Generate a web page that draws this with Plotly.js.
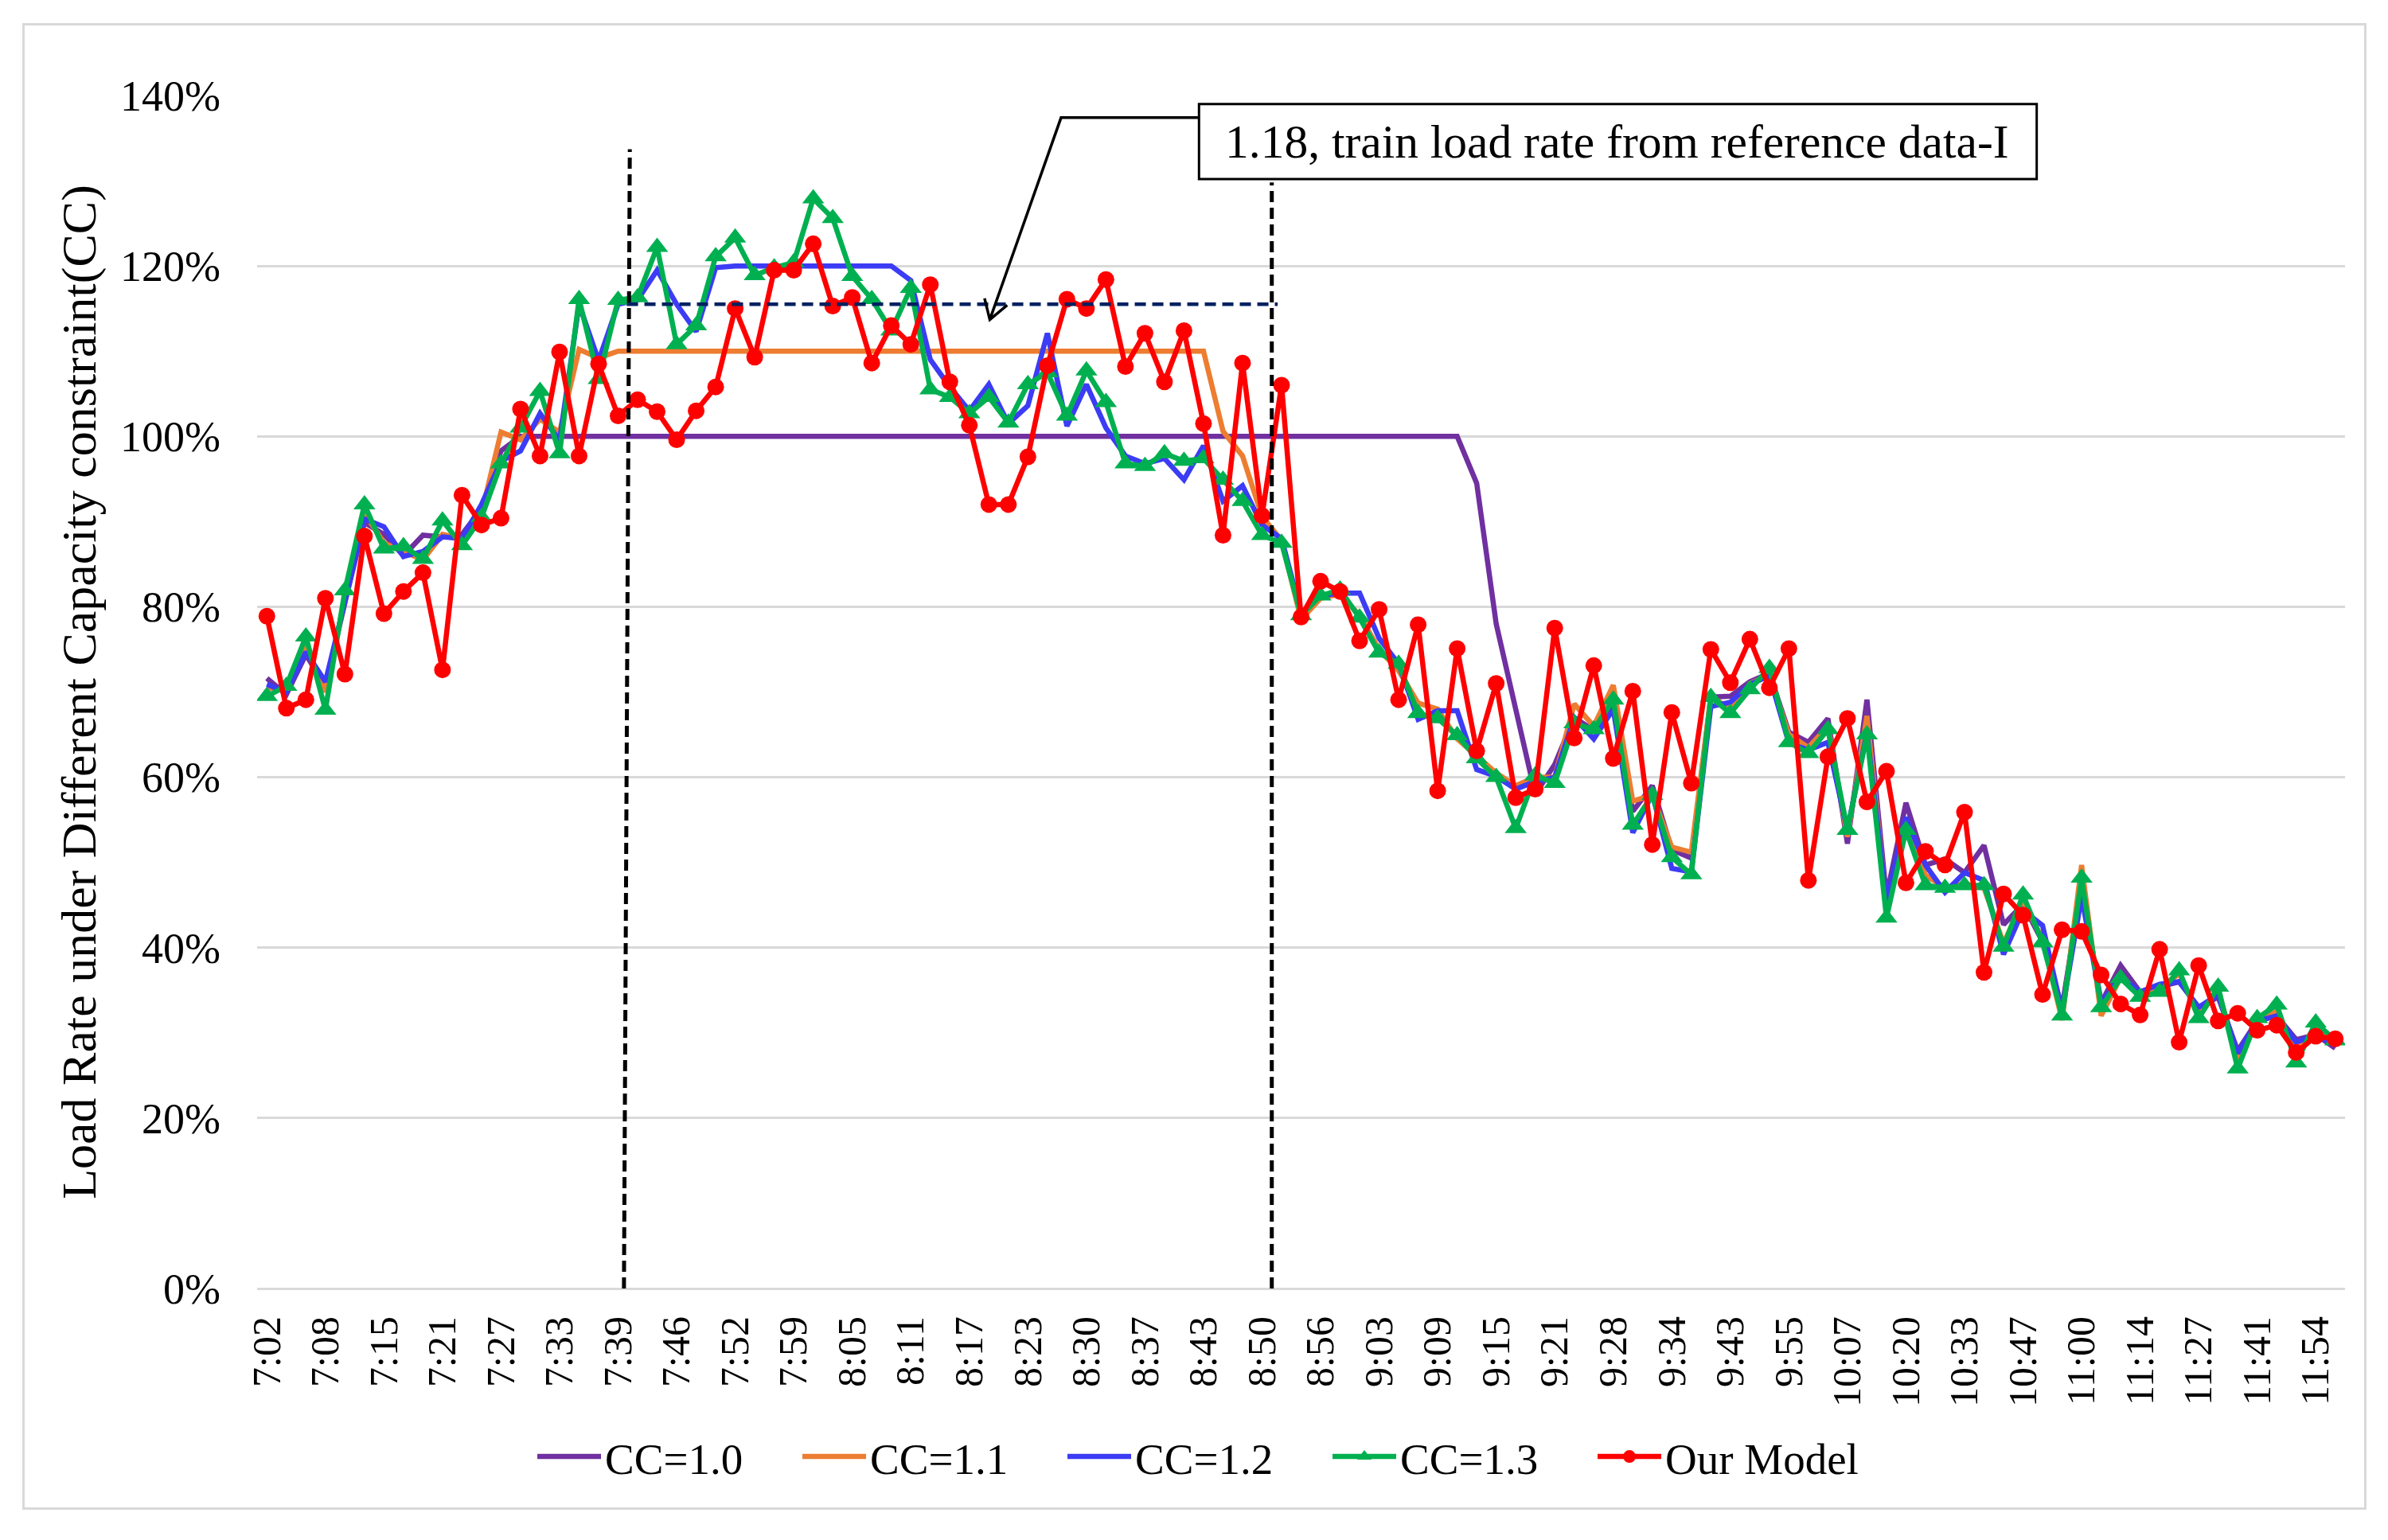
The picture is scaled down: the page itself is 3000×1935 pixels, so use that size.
<!DOCTYPE html>
<html>
<head>
<meta charset="utf-8">
<script src="https://cdn.plot.ly/plotly-3.0.1.min.js"></script>
<style>
  html, body { margin: 0; padding: 0; background: #fff; }
  #wrap { position: relative; width: 3000px; height: 1935px; }
  #chart { position: absolute; left: 0; top: 0; width: 3000px; height: 1935px; }
  #frame { position: absolute; left: 28px; top: 29px; width: 2939px; height: 1862px;
           border: 3px solid #d9d9d9; pointer-events: none; }
</style>
</head>
<body>
<div id="wrap"><div id="chart"></div><div id="frame"></div></div>
<script>
// Tick labels (every third departure)
const timeLabels = ["7:02","7:08","7:15","7:21","7:27","7:33","7:39","7:46","7:52","7:59",
  "8:05","8:11","8:17","8:23","8:30","8:37","8:43","8:50","8:56","9:03","9:09","9:15",
  "9:21","9:28","9:34","9:43","9:55","10:07","10:20","10:33","10:47","11:00","11:14",
  "11:27","11:41","11:54"];

// Load rate (%) per train, 107 trains
const cc10 = [71.6,69.7,74.4,70.6,80.5,89.9,88.5,86.0,88.4,88.2,88.5,91.5,98.3,100,
  100,100,100,100,100,100,100,100,100,100,100,100,100,100,100,100,100,100,100,100,100,100,
  100,100,100,100,100,100,100,100,100,100,100,100,100,100,100,100,100,100,100,100,100,100,
  100,100,100,100,94.5,78,68,58,61.5,67,65.5,68.5,56,59,51.5,50.5,69.4,69.5,71.2,72.2,
  65.3,64.1,66.9,52.2,69.1,46,57,49.7,50.4,48.8,52,42.7,45.1,40.7,33,47.5,33.5,37.9,
  34.8,35.4,36.0,33.0,34.2,27.9,31.4,32.0,29.2,29.8,28.2];

const cc11 = [70.5,70.3,75.5,70.0,81,91,87.5,86.5,85.5,88.5,88,91,100.5,99.6,102,100.5,
  110.2,109.2,110,110,110,110,110,110,110,110,110,110,110,110,110,110,110,110,110,110,
  110,110,110,110,110,110,110,110,110,110,110,110,110,100.6,97.7,90.6,87.8,78.5,81.0,81.5,
  79,75,72.5,68.7,68,64.5,62.5,60.5,59,60,60,68.6,66,70.8,57.2,57.9,51.8,51.2,69.5,68,
  71,72,65,63.5,66,53,67.2,45,55,48.5,47,47.5,47,40.5,45.5,41,31.5,49.7,32,36.5,34.5,
  35,37,32,35,27,31.5,32.5,28,30.5,29];

const cc12 = [70.9,70.0,74.7,71.2,80.6,90.3,89.4,85.9,86.5,88.2,88,92,97.1,98.3,102.7,
  99.5,115.5,108.9,115.5,116,119.5,115.5,112.3,119.8,120,120,120,120,120,120,120,120,120,
  118.3,109.0,105.8,103.0,106.1,101.5,103.6,112.1,101.2,106.1,101,97.7,96.8,97.4,94.9,
  98.9,92.4,94.2,89.6,88,79.3,81.3,81.6,81.6,76.3,73.3,66.8,67.8,67.8,60.9,60.1,58.6,
  59.5,60,67,64.5,68,53.5,58,49.3,48.9,68.3,68.8,70.9,71.9,64,63.2,64.1,53.8,65.3,45.4,
  55.3,49.7,46.5,48.8,47.9,39.2,44.4,42.6,32.5,46,33.5,36.6,34.8,35.7,36,33,34.5,27.6,
  31.4,32,28.9,29.8,28.5];

const cc13 = [69.5,70.7,76.5,67.9,81.9,92.0,86.8,87.1,85.6,90.1,87.2,90.5,96.8,101,105.3,
  98.0,116.1,106.7,116,116.3,122.2,110.8,113.0,121.1,123.3,118.9,119.8,120.4,127.9,125.6,
  118.8,116.1,112.4,117.4,105.5,104.6,102.7,104.6,101.6,106.1,107.5,102.4,107.7,104,96.8,
  96.5,98,97.1,97.4,94.9,92.4,88.4,87.5,79.0,81.3,82,78.7,74.6,73.3,67.5,66.9,64.9,62.2,
  60,54,60.2,59.3,66.3,65.6,69.1,54.4,57.9,50.6,48.6,69.4,67.5,70.3,72.8,64.1,62.8,65.6,
  53.8,65.0,43.5,53.8,47.3,47.0,47.3,47.3,40.1,46.2,40.6,32,48.2,33,36.4,34.2,34.8,37.3,
  31.7,35.4,25.8,31.7,33.3,26.5,31.2,29.1];

const ourModel = [78.9,68.1,69.1,81.0,72.1,88.3,79.2,81.8,84.0,72.6,93.1,89.6,90.4,103.2,
  97.7,109.9,97.7,108.5,102.4,104.3,102.9,99.6,103.0,105.8,115.0,109.3,119.5,119.5,122.6,
  115.3,116.3,108.6,113.0,110.8,117.8,106.4,101.3,92,92,97.6,108.3,116.1,115.0,118.4,
  108.2,112.1,106.4,112.4,101.5,88.4,108.6,90.7,106.0,78.8,83.0,81.8,76.0,79.7,69.1,77.9,
  58.4,75.1,63.1,71.0,57.6,58.6,77.5,64.6,73.1,62.2,70.1,52.1,67.6,59.3,75.0,71.1,76.2,
  70.5,75.1,47.9,62.4,66.9,57.1,60.7,47.6,51.3,49.7,55.9,37.1,46.3,43.8,34.5,42.1,41.9,
  36.8,33.4,32.1,39.8,28.9,37.9,31.4,32.3,30.3,30.9,27.7,29.6,29.3];

const refLoad = 115.5; // reference train load rate line
const annotText = "1.18, train load rate from reference data-I";

const idx = ourModel.map((_, i) => i);
const tickVals = timeLabels.map((_, k) => 3 * k);
const FONT = "Liberation Serif, Times New Roman, serif";

function series(name, y, color, symbol, msize) {
  const t = { x: idx, y: y, name: name, type: "scatter",
    mode: symbol ? "lines+markers" : "lines",
    line: { color: color, width: 6.5 } };
  if (symbol) t.marker = { symbol: symbol, size: msize, color: color };
  return t;
}

const data = [
  series("CC=1.0", cc10, "#7030A0"),
  series("CC=1.1", cc11, "#ED7D31"),
  series("CC=1.2", cc12, "#3C3CF5"),
  series("CC=1.3", cc13, "#00B050", "triangle-up", 24),
  series("Our Model", ourModel, "#FF0000", "circle", 21)
];

const layout = {
  width: 3000, height: 1935,
  margin: { l: 323, r: 54, t: 120, b: 316 },
  paper_bgcolor: "#ffffff", plot_bgcolor: "#ffffff",
  font: { family: FONT, color: "#000000", size: 54 },
  showlegend: true,
  legend: { orientation: "h", x: 0.1323, xanchor: "left", y: -0.141, yanchor: "middle",
    font: { family: FONT, size: 55, color: "#000" }, itemwidth: 80,
    entrywidth: 238, traceorder: "normal" },
  xaxis: { range: [-0.5, 106.5], tickmode: "array", tickvals: tickVals, ticktext: timeLabels,
    tickangle: -90, showgrid: false, zeroline: false, showline: false, ticks: "",
    ticklabelstandoff: 24, tickfont: { family: FONT, size: 50, color: "#000" } },
  yaxis: { range: [0, 140], dtick: 20, ticksuffix: "%", showgrid: true, gridcolor: "#d9d9d9",
    gridwidth: 3, zeroline: true, zerolinecolor: "#d9d9d9", zerolinewidth: 3, showline: false,
    ticks: "", ticklabelstandoff: 45, tickfont: { family: FONT, size: 54, color: "#000" },
    title: { text: "Load Rate under Different Capacity constraint(CC)", standoff: 10,
      font: { family: FONT, size: 62, color: "#000" } } },
  shapes: [
    { type: "line", xref: "x", yref: "y", x0: 18.3, y0: 0, x1: 18.6, y1: 133.7, layer: "above",
      line: { color: "#000", width: 5, dash: "14px,7px" } },
    { type: "line", xref: "x", yref: "y", x0: 51.5, y0: 0, x1: 51.5, y1: 129.8, layer: "above",
      line: { color: "#000", width: 5, dash: "14px,7px" } },
    { type: "line", xref: "x", yref: "y", x0: 18.45, y0: refLoad, x1: 51.8, y1: refLoad, layer: "above",
      line: { color: "#002060", width: 4.5, dash: "14px,8px" } },
    { type: "rect", xref: "x", yref: "y", x0: 47.77, y0: 130.2, x1: 90.7, y1: 139.0, layer: "above",
      fillcolor: "#ffffff", line: { color: "#000", width: 3 } },
    { type: "path", xref: "x", yref: "y", layer: "above",
      path: "M47.77,137.4 L40.7,137.4 L37.05,113.7", line: { color: "#000", width: 3.5 } },
    { type: "path", xref: "x", yref: "y", layer: "above",
      path: "M36.78,116.2 L37.05,113.7 L37.94,115.4", line: { color: "#000", width: 3.5 } }
  ],
  annotations: [
    { xref: "x", yref: "y", x: 69.2, y: 134.6, text: annotText, showarrow: false,
      font: { family: FONT, size: 59.5, color: "#000" } }
  ]
};

Plotly.newPlot("chart", data, layout, { staticPlot: true, displayModeBar: false });
</script>
</body>
</html>
